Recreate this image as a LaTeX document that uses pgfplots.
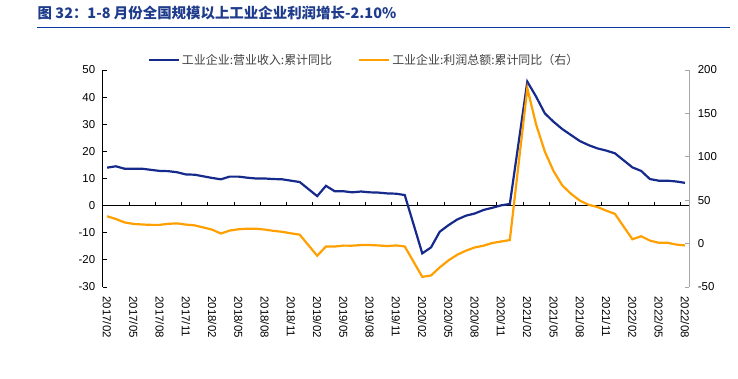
\documentclass[border=0pt]{standalone}
\usepackage{pgfplots}
\usepackage{pgfplotstable}
\pgfplotsset{compat=1.18}
\usepackage{fontspec}
\setmainfont{Liberation Sans}
\newfontfamily\cjk{Noto Sans CJK SC}
\definecolor{navy}{HTML}{162A8C}
\definecolor{org}{HTML}{FFA000}
\definecolor{ttl}{HTML}{1F3C8C}
\definecolor{rulec}{HTML}{0A3A9E}

\pgfplotstableread{
m v
0 14.0
1 14.5
2 13.6
3 13.6
4 13.6
5 13.2
6 12.8
7 12.7
8 12.3
9 11.5
10 11.4
12 10.2
13 9.7
14 10.7
15 10.7
16 10.3
17 10.0
18 10.0
19 9.8
20 9.7
21 9.2
22 8.7
24 3.5
25 7.3
26 5.3
27 5.3
28 4.9
29 5.2
30 4.9
31 4.8
32 4.5
33 4.4
34 3.9
36 -17.6
37 -15.4
38 -9.6
39 -7.2
40 -5.1
41 -3.7
42 -2.9
43 -1.6
44 -0.8
45 0.1
46 0.6
48 45.7
49 40.2
50 34.0
51 30.9
52 28.2
53 26.0
54 23.8
55 22.3
56 21.1
57 20.3
58 19.3
60 14.1
61 12.8
62 9.8
63 9.2
64 9.2
65 8.9
66 8.4
}\rev

\pgfplotstableread{
m v
0 31.5
1 28.3
2 24.4
3 22.7
4 22.0
5 21.6
6 21.6
7 22.8
8 23.3
9 21.9
10 21.0
12 16.1
13 11.6
14 15.0
15 16.5
16 17.2
17 17.1
18 16.2
19 14.7
20 13.6
21 11.8
22 10.3
24 -14.0
25 -3.3
26 -3.4
27 -2.3
28 -2.4
29 -1.7
30 -1.7
31 -2.1
32 -2.9
33 -2.1
34 -3.3
36 -38.3
37 -36.7
38 -27.4
39 -19.3
40 -12.8
41 -8.1
42 -4.4
43 -2.4
44 0.7
45 2.4
46 4.1
48 178.9
49 137.3
50 106.0
51 83.4
52 66.9
53 57.3
54 49.5
55 44.7
56 42.2
57 38.0
58 34.3
60 5.0
61 8.5
62 3.5
63 1.0
64 1.0
65 -1.1
66 -2.1
}\prof

\pgfplotsset{base/.style={
  scale only axis, width=586.6bp, height=217bp,
  at={(102.7bp,92bp)}, anchor=south west,
  xmin=-0.5, xmax=66.5,
  axis line style={draw=none},
  tick label style={font=\fontsize{11.5}{13}\selectfont, text=black},
  /pgf/number format/assume math mode=true,
  tick align=inside, major tick length=4bp,
  clip=false
}}

\begin{document}
\begin{tikzpicture}
\path[use as bounding box] (0bp,0bp) rectangle (738bp,379bp);
\node[anchor=base west, inner sep=0, text=ttl, font=\cjk\bfseries\fontsize{14.5}{16}\selectfont] at (37.5bp,360bp) {图 32：1-8 月份全国规模以上工业企业利润增长-2.10\%};
\draw[rulec, line width=1.3bp] (37bp,351.7bp) -- (730bp,351.7bp);

% left axis: revenue
\begin{axis}[base, ymin=-30, ymax=50, ytick={-30,-20,...,50}, ytick pos=left,
  xtick={0,3,...,66}, xtick pos=bottom,
  xticklabels={2017/02,2017/05,2017/08,2017/11,2018/02,2018/05,2018/08,2018/11,2019/02,2019/05,2019/08,2019/11,2020/02,2020/05,2020/08,2020/11,2021/02,2021/05,2021/08,2021/11,2022/02,2022/05,2022/08},
  x tick style={draw=none},
  xticklabel style={rotate=-90, anchor=west},
  xticklabel shift={6bp},
  y tick style={black, line width=0.8bp},
  yticklabel shift={4bp}]
\draw[black, line width=0.8bp] (rel axis cs:0,0) -- (rel axis cs:0,1);
\draw[black, line width=0.8bp] (axis cs:-0.5,0) -- (axis cs:66.5,0);
\pgfplotsinvokeforeach{2.5,5.5,...,65.5}{
  \draw[black, line width=0.8bp] (axis cs:#1,0) -- ++(0bp,4bp);
}
\addplot[navy, line width=2.2bp] table[x=m, y=v] {\rev};
\end{axis}

% right axis: profit
\begin{axis}[base, ymin=-50, ymax=200, ytick={-50,0,...,200}, ytick pos=right,
  xtick=\empty,
  y tick style={gray!70, line width=0.8bp},
  yticklabel shift={5bp},
  legend style={at={(axis description cs:0.4455,1.046)}, anchor=center,
    draw=none, fill=none, legend columns=2,
    font=\cjk\fontsize{12}{14}\selectfont, text=black!75,
    /tikz/every even column/.append style={column sep=24bp}},
  legend image code/.code={\draw[#1] (0bp,0bp) -- (30bp,0bp);}]
\draw[gray!70, line width=0.8bp] (rel axis cs:1,0) -- (rel axis cs:1,1);
\addlegendimage{navy, line width=2.2bp}
\addlegendentry{工业企业:营业收入:累计同比}
\addplot[org, line width=2.2bp] table[x=m, y=v] {\prof};
\addlegendentry{工业企业:利润总额:累计同比（右）}
\end{axis}
\end{tikzpicture}
\end{document}
